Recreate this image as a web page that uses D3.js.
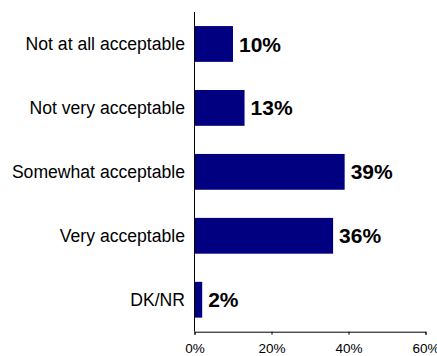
<!DOCTYPE html>
<html><head><meta charset="utf-8">
<script src="https://cdn.jsdelivr.net/npm/d3@7"></script>
<style>body{margin:0;background:#fff;}</style>
</head><body>
<script>
const categories = ["Not at all acceptable","Not very acceptable","Somewhat acceptable","Very acceptable","DK/NR"];
const values = [10,13,39,36,2];
const tickValues = [0,20,40,60];

const W=437,H=356;
const svg=d3.select("body").append("svg").attr("width",W).attr("height",H);
const x=d3.scaleLinear().domain([0,60]).range([194.5,425.5]);
const y=d3.scaleBand().domain(categories).range([12,331.7]).paddingInner(0.44).paddingOuter(0.22);

svg.selectAll("rect.bar").data(values).enter().append("rect")
 .attr("x",x(0)).attr("y",(d,i)=>y(categories[i]))
 .attr("width",d=>x(d)-x(0)).attr("height",y.bandwidth()).attr("fill","#000080");

svg.selectAll("text.val").data(values).enter().append("text")
 .attr("x",d=>x(d)+6).attr("y",(d,i)=>y(categories[i])+y.bandwidth()/2)
 .attr("dy","0.36em").attr("font-family","Liberation Sans, Arial, sans-serif")
 .attr("font-weight","bold").attr("font-size",21).attr("fill","#000")
 .text(d=>d+"%");

svg.selectAll("text.cat").data(categories).enter().append("text")
 .attr("x",185).attr("y",d=>y(d)+y.bandwidth()/2).attr("dy","0.36em")
 .attr("text-anchor","end").attr("font-family","Liberation Sans, Arial, sans-serif")
 .attr("font-size",17.6).attr("fill","#000").text(d=>d);

// axes
svg.append("line").attr("x1",x(0)).attr("x2",x(0)).attr("y1",12).attr("y2",331.7).attr("stroke","#000").attr("stroke-width",1);
const xAxis=d3.axisBottom(x).tickValues(tickValues).tickSize(3).tickFormat(d=>d+"%");
const g=svg.append("g").attr("transform","translate(0,331.7)").call(xAxis);
g.select(".domain").attr("stroke","#000");
g.selectAll(".tick line").attr("stroke","#000");
g.selectAll(".tick text").attr("font-family","Liberation Sans, Arial, sans-serif").attr("font-size",13.5).attr("fill","#000").attr("y",12);
</script>
</body></html>
